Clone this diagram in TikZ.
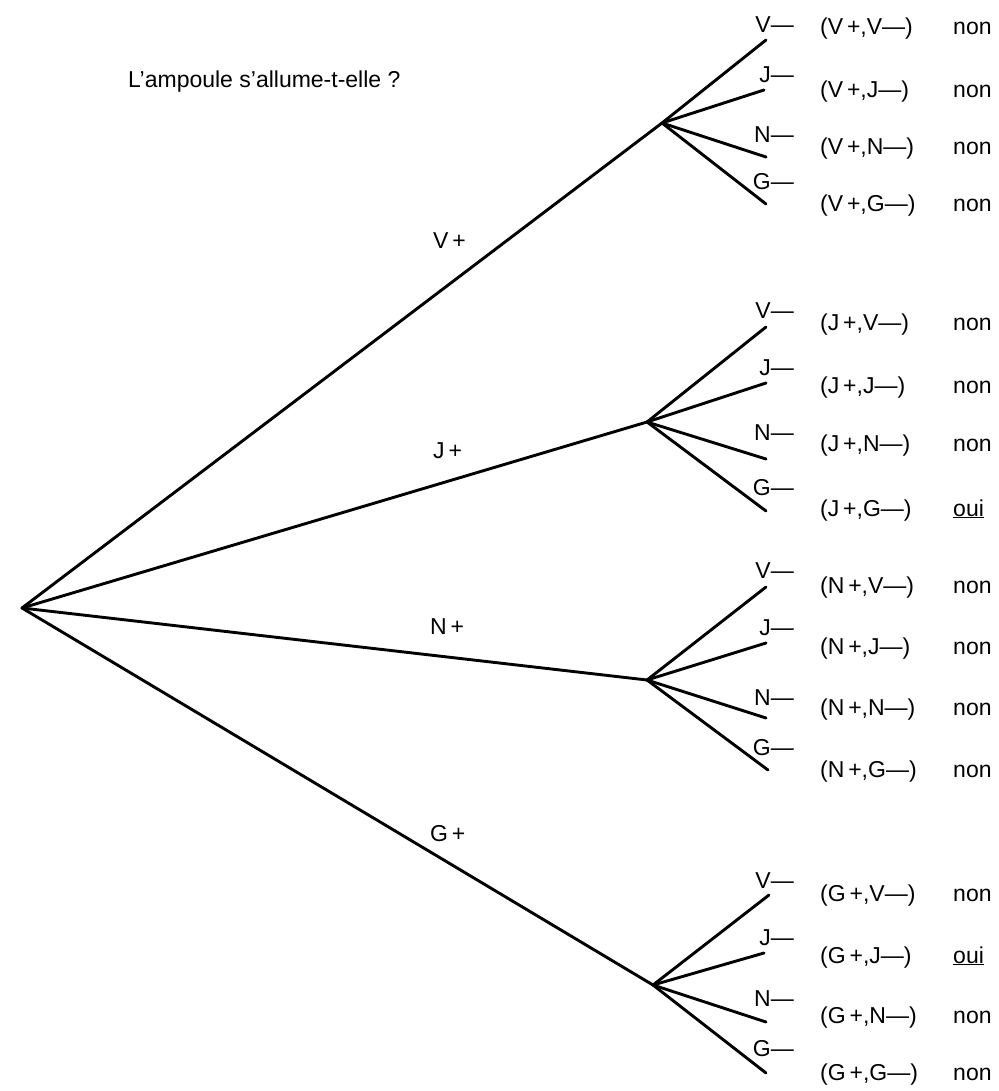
\documentclass[tikz,border=0pt]{standalone}
\usepackage{fontspec}
\setmainfont{Liberation Sans}
\begin{document}
\begin{tikzpicture}[x=1pt,y=-1pt,
  br/.style={line width=2.9pt,line cap=round,line join=round},
  txt/.style={font=\fontsize{23}{27}\selectfont, inner sep=0pt, anchor=base west},
  leaf/.style={font=\fontsize{23}{27}\selectfont, inner sep=0pt, anchor=base east},
]
\useasboundingbox (0,0) rectangle (998,1091);
% title
\node[txt] (title) at (128,88) {L'ampoule s'allume-t-elle ?};
% root and branch points
\coordinate (r) at (22,608);
\coordinate (V) at (662,123);
\coordinate (J) at (647,422);
\coordinate (N) at (647,680);
\coordinate (G) at (653,985);
\foreach \b in {V,J,N,G} \draw[br] (r) -- (\b);
% branch labels
\node[txt] (lV) at (433,248) {V\,+};
\node[txt] (lJ) at (433,458) {J\,+};
\node[txt] (lN) at (430,634) {N\,+};
\node[txt] (lG) at (430,841) {G\,+};
% leaf ends
\foreach \b/\i/\x/\y in {
  V/1/766/40, V/2/764/90, V/3/766/157, V/4/766/204,
  J/1/766/327, J/2/766/383, J/3/766/459, J/4/766/511,
  N/1/766/587, N/2/766/643, N/3/766/718, N/4/768/770,
  G/1/769/895, G/2/764/953, G/3/766/1022, G/4/766/1073}
{ \coordinate (\b\i) at (\x,\y); \draw[br] (\b) -- (\b\i); }
% leaf labels
\foreach \b/\i/\t/\y in {
  V/1/V/33, V/2/J/83, V/3/N/143, V/4/G/190,
  J/1/V/318, J/2/J/375, J/3/N/440, J/4/G/495,
  N/1/V/578, N/2/J/635, N/3/N/705, N/4/G/755,
  G/1/V/888, G/2/J/945, G/3/N/1006, G/4/G/1056}
{ \node[leaf] (t\b\i) at (794,\y) {\t---}; }
% pairs and answers
\foreach \b/\i/\t/\y/\a in {
  V/1/V/35/non, V/2/J/98/non, V/3/N/155/non, V/4/G/212/non,
  J/1/V/330/non, J/2/J/393/non, J/3/N/451/non, J/4/G/516/\underline{oui},
  N/1/V/593/non, N/2/J/654/non, N/3/N/715/non, N/4/G/777/non,
  G/1/V/901/non, G/2/J/963/\underline{oui}, G/3/N/1023/non, G/4/G/1080/non}
{ \node[txt] (p\b\i) at (820,\y) {(\b\,+,\t---)};
  \node[txt] (a\b\i) at (953,\y) {\a}; }
\end{tikzpicture}
\end{document}
